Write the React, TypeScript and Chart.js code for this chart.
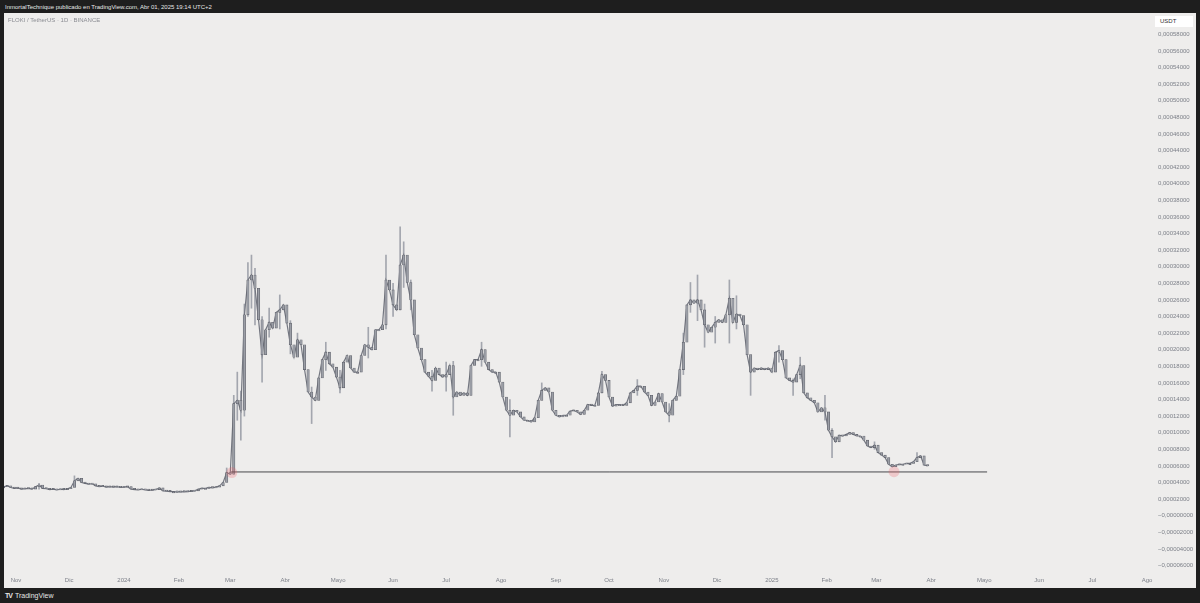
import React, { useEffect, useRef } from "react";
import { Chart, registerables } from "chart.js";

Chart.register(...registerables);

// FLOKI / USDT, 2-day closes (units of 1e-5 USDT), starting 25 Oct 2023
const closes: number[] = [
  3.5, 3.6, 3.4, 3.3, 3.35, 3.2, 3.25, 3.3, 3.2, 3.5,
  3.7, 3.3, 3.25, 3.15, 3.2, 3.1, 3.2, 3.15, 3.25, 3.4,
  4.2, 4.5, 4.0, 3.9, 3.8, 3.85, 3.6, 3.5, 3.55, 3.45,
  3.5, 3.45, 3.5, 3.4, 3.45, 3.5, 3.2, 3.15, 3.1, 3.2,
  3.1, 3.05, 3.1, 3.15, 3.35, 3.0, 2.95, 2.9, 2.9, 2.85,
  2.9, 2.88, 2.9, 2.95, 3.0, 3.2, 3.3, 3.3, 3.4, 3.35,
  3.45, 3.6, 4.0, 5.2, 5.0,
  13.5, 13.9, 12.7, 24.2, 28.4, 29.0, 27.4, 23.6, 19.4, 22.4,
  23.3, 22.6, 24.5, 24.8, 25.4, 23.2, 20.6, 19.1, 21.2, 20.6,
  17.6, 14.9, 14.3, 13.9, 16.6, 18.8, 19.7, 18.3, 17.9, 16.7,
  15.4, 18.5, 19.3, 17.8, 17.3, 17.3, 19.3, 20.6, 20.3, 20.0,
  22.4, 22.4, 23.0, 28.4, 27.2, 25.4, 24.8, 30.2, 31.4, 28.1,
  26.0, 21.8, 20.2, 18.8, 17.3, 16.8, 16.3, 17.8, 17.0, 16.7,
  17.0, 18.1, 14.3, 14.9, 14.5, 14.8, 14.5, 18.1, 18.8, 18.8,
  20.0, 18.5, 17.6, 17.3, 17.3, 16.1, 14.3, 12.7, 12.1, 12.7,
  12.5, 11.9, 11.5, 11.5, 11.3, 11.8, 13.9, 15.1, 15.4, 14.9,
  12.7, 12.1, 11.9, 12.1, 12.1, 12.6, 12.7, 12.5, 12.2, 12.7,
  13.4, 13.3, 13.3, 14.8, 17.0, 16.3, 14.3, 13.2, 13.4, 13.4,
  13.3, 13.6, 14.8, 15.1, 15.6, 15.6, 14.9, 14.5, 13.3, 13.7,
  14.7, 13.7, 12.5, 12.1, 13.9, 14.4, 17.6, 20.9, 25.4, 26.0,
  25.6, 26.0, 24.8, 23.0, 22.1, 22.7, 23.3, 23.6, 23.3, 24.2,
  26.2, 23.3, 24.3, 24.1, 23.0, 19.4, 17.3, 17.8, 17.6, 17.8,
  17.6, 17.8, 17.3, 19.7, 19.9, 18.8, 16.6, 16.3, 16.1, 17.0,
  18.1, 14.8, 14.2, 13.9, 13.6, 12.5, 13.0, 12.5, 10.3, 9.5,
  8.9, 9.7, 9.6, 9.8, 10.0, 9.8, 9.6, 9.6, 9.1, 8.4,
  8.2, 8.5, 7.6, 7.3, 7.0, 6.2, 5.9, 6.1, 6.2, 6.2,
  6.3, 6.3, 6.5, 7.0, 7.2, 6.1, 6.0,
];
const daysPerCandle = 2;

// notable wicks (day offset from 25 Oct 2023, low, high in 1e-5 USDT)
const wickDays: number[] = [
  20, 40, 126, 130, 132, 134, 136, 138, 140, 142,
  146, 150, 156, 162, 166, 174, 182, 190, 206, 216,
  220, 224, 226, 230, 242, 250, 254, 270, 286, 304,
  338, 358, 376, 384, 388, 392, 396, 402, 410, 414,
  422, 438, 446, 450, 464, 468, 492, 516,
];
const wickLows: number[] = [
  3.2, 3.8, 4.6, 5.0, 11.5, 9.1, 12.0, 24.0, 25.0, 23.0,
  16.1, 21.5, 22.5, 19.5, 19.5, 11.1, 17.5, 14.8, 19.0, 22.5,
  24.0, 24.8, 27.5, 24.8, 15.0, 15.0, 12.1, 18.0, 9.5, 14.0,
  14.8, 14.5, 11.3, 17.0, 24.5, 23.5, 20.3, 20.8, 20.8, 22.5,
  14.5, 18.5, 14.5, 16.5, 11.5, 7.0, 8.0, 6.8,
];
const wickHighs: number[] = [
  3.9, 4.8, 5.75, 14.5, 17.3, 15.0, 25.5, 30.5, 31.4, 29.8,
  24.0, 25.0, 26.6, 23.5, 22.0, 15.5, 20.9, 17.5, 22.7, 31.4,
  28.0, 34.8, 33.0, 28.4, 17.5, 18.5, 18.6, 20.9, 14.0, 16.0,
  17.4, 16.4, 13.5, 22.0, 28.1, 29.0, 25.5, 24.0, 28.4, 26.5,
  19.0, 20.5, 16.5, 19.1, 14.5, 10.5, 8.9, 7.6,
];

// horizontal support line
const supportLevel = 5.27;
const supportFromDay = 128.5;
const supportToDay = 555.6;

// highlighted touches
const markerDays: number[] = [128.9, 503];
const markerValues: number[] = [5.2, 5.3];

// time axis
const monthLabels: string[] = [
  "Nov", "Dic", "2024", "Feb", "Mar", "Abr", "Mayo", "Jun", "Jul", "Ago", "Sep",
  "Oct", "Nov", "Dic", "2025", "Feb", "Mar", "Abr", "Mayo", "Jun", "Jul", "Ago",
];
const monthDays: number[] = [
  7, 37, 68, 99, 128, 159, 189, 220, 250, 281, 312,
  342, 373, 403, 434, 465, 493, 524, 554, 585, 615, 646,
];

// price axis ticks (1e-5 USDT)
const yTicks: number[] = [
  -6, -4, -2, 0, 2, 4, 6, 8, 10, 12, 14, 16, 18, 20, 22, 24, 26, 28,
  30, 32, 34, 36, 38, 40, 42, 44, 46, 48, 50, 52, 54, 56, 58,
];

const FONT = "'Liberation Sans', Arial, sans-serif";

function fmtPrice(v: number): string {
  const s = Math.abs(v * 1e-5).toFixed(8).replace(".", ",");
  return v <= 0 ? "\u2212" + s : s;
}

function PriceChart() {
  const ref = useRef<HTMLCanvasElement | null>(null);
  useEffect(() => {
    if (!ref.current) return;
    const bodies = closes.map((c, i) => ({
      x: i * daysPerCandle,
      y: [i === 0 ? c : closes[i - 1], c],
    }));
    const closeLine = closes.map((c, i) => ({ x: i * daysPerCandle, y: c }));
    const wicks = wickDays.map((d, i) => ({ x: d, y: [wickLows[i], wickHighs[i]] }));
    const support = [
      { x: supportFromDay, y: supportLevel },
      { x: supportToDay, y: supportLevel },
    ];
    const markers = markerDays.map((d, i) => ({ x: d, y: markerValues[i] }));

    const chart = new Chart(ref.current, {
      type: "bar",
      data: {
        datasets: [
          {
            type: "scatter",
            data: markers,
            pointRadius: 5.5,
            pointHoverRadius: 5.5,
            pointBackgroundColor: "rgba(240,90,100,0.25)",
            pointBorderWidth: 0,
            order: -1,
          } as any,
          {
            type: "line",
            data: support,
            borderColor: "#48484c",
            borderWidth: 1,
            pointRadius: 0,
            order: 0,
          } as any,
          {
            type: "bar",
            data: bodies,
            backgroundColor: "#9b9ea6",
            borderColor: "#5c5f68",
            borderWidth: 0.6,
            borderSkipped: false,
            barThickness: 2.4,
            minBarLength: 1.2,
            grouped: false,
            order: 1,
          } as any,
          {
            type: "line",
            data: closeLine,
            borderColor: "#747781",
            borderWidth: 1.2,
            pointRadius: 0,
            tension: 0,
            order: 2,
          } as any,
          {
            type: "bar",
            data: wicks,
            backgroundColor: "#a3a6ae",
            barThickness: 1,
            grouped: false,
            order: 3,
          } as any,
        ],
      },
      options: {
        animation: false,
        responsive: false,
        maintainAspectRatio: false,
        layout: { padding: 0, autoPadding: false },
        plugins: { legend: { display: false }, tooltip: { enabled: false } },
        scales: {
          x: {
            type: "linear",
            min: 0.2,
            max: 646.5,
            offset: false,
            grid: { display: false, drawTicks: false },
            border: { display: false },
            afterBuildTicks: (s: any) => {
              s.ticks = monthDays.map((v) => ({ value: v }));
            },
            afterFit: (s: any) => {
              s.height = 20;
              s.paddingLeft = 0;
              s.paddingRight = 0;
              s.paddingTop = 0;
              s.paddingBottom = 0;
            },
            ticks: {
              autoSkip: false,
              maxRotation: 0,
              padding: 9,
              color: "#7d8089",
              font: { size: 6, family: FONT },
              callback: (_v: any, i: number) => monthLabels[i],
            },
          },
          y: {
            type: "linear",
            position: "right",
            min: -6.301,
            max: 60.566,
            grid: { display: false, drawTicks: false },
            border: { display: false },
            afterBuildTicks: (s: any) => {
              s.ticks = yTicks.map((v) => ({ value: v }));
            },
            afterFit: (s: any) => {
              s.width = 48;
              s.paddingTop = 0;
              s.paddingBottom = 0;
              s.paddingLeft = 0;
              s.paddingRight = 0;
            },
            ticks: {
              padding: 10,
              color: "#7d8089",
              font: { size: 6, family: FONT },
              callback: (v: any) => fmtPrice(Number(v)),
            },
          },
        },
      } as any,
    });
    return () => chart.destroy();
  }, []);
  return (
    <canvas
      ref={ref}
      width={1192}
      height={575}
      style={{ position: "absolute", left: 0, top: 0, width: 1192, height: 575 }}
    />
  );
}

export default function App() {
  return (
    <div
      style={{
        position: "fixed",
        left: 0,
        top: 0,
        width: 1200,
        height: 603,
        background: "#1e1e1e",
        overflow: "hidden",
        fontFamily: FONT,
      }}
    >
      <div
        style={{
          position: "absolute",
          left: 5,
          top: 3,
          fontSize: 6,
          lineHeight: "8px",
          color: "#e6e6e6",
          whiteSpace: "nowrap",
        }}
      >
        InmortalTechnique publicado en TradingView.com, Abr 01, 2025 19:14 UTC+2
      </div>
      <div
        style={{
          position: "absolute",
          left: 4,
          top: 13,
          width: 1192,
          height: 575,
          background: "#eeedec",
        }}
      >
        <PriceChart />
        <div
          style={{
            position: "absolute",
            left: 4,
            top: 3,
            fontSize: 6,
            lineHeight: "8px",
            color: "#8a8c92",
            whiteSpace: "nowrap",
          }}
        >
          FLOKI / TetherUS · 1D · BINANCE
        </div>
        <div
          style={{
            position: "absolute",
            left: 1151,
            top: 3,
            width: 38,
            height: 11,
            background: "#ffffff",
            fontSize: 6,
            lineHeight: "11px",
            color: "#333",
            paddingLeft: 5,
            boxSizing: "border-box",
          }}
        >
          USDT
        </div>
      </div>
      <div
        style={{
          position: "absolute",
          left: 5,
          top: 591,
          fontSize: 7,
          lineHeight: "9px",
          color: "#e6e6e6",
          whiteSpace: "nowrap",
        }}
      >
        <span style={{ fontWeight: 900, letterSpacing: -1, marginRight: 3 }}>TV</span>
        TradingView
      </div>
    </div>
  );
}
